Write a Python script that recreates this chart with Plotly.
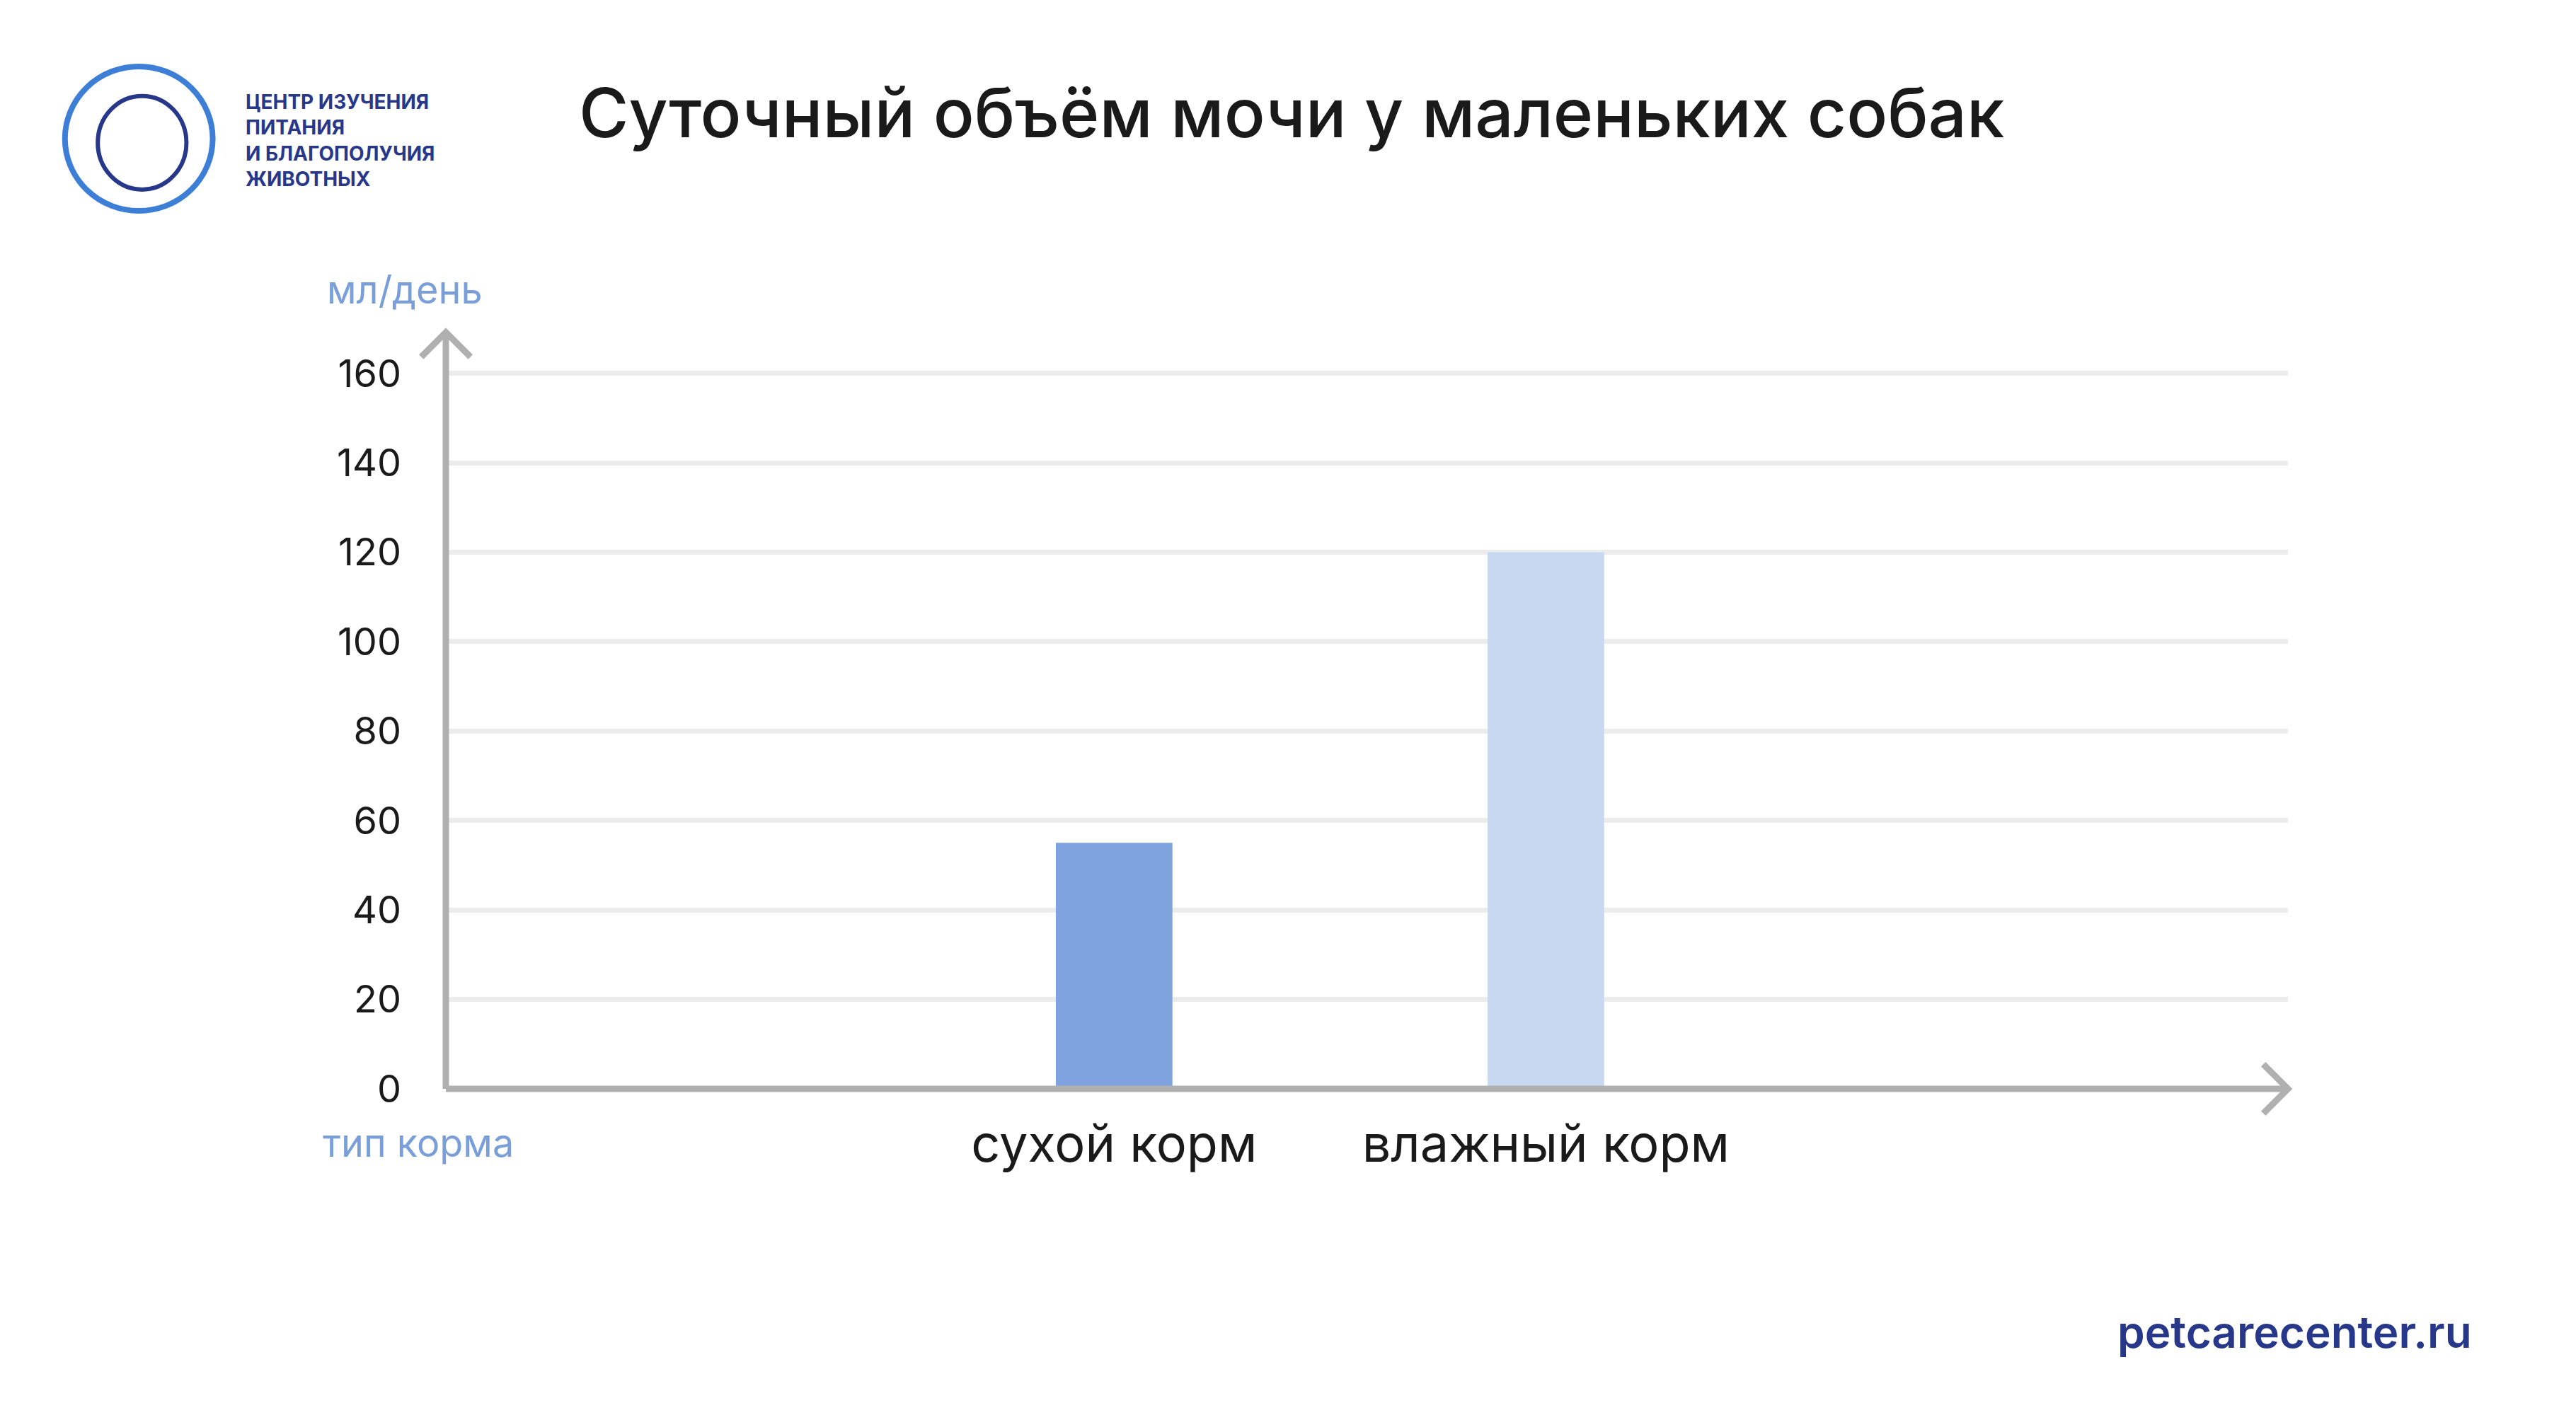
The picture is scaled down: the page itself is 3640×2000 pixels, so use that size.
import plotly.graph_objects as go

categories = ["сухой корм", "влажный корм"]
values = [55, 120]
colors = ["#7ea3de", "#c8d8f1"]
tick_vals = [0, 20, 40, 60, 80, 100, 120, 140, 160]

S = 2.32
L, R, T, B = 268*S, 3640-1390*S, 200*S, 2000-660*S
FONT = "Inter"
fig = go.Figure(go.Bar(x=[0, 1], y=values, marker_color=colors, width=0.27,
                       marker_line_width=0, hoverinfo="skip"))

fig.update_layout(
    width=3640, height=2000, paper_bgcolor="white", plot_bgcolor="white",
    margin=dict(l=L, r=R, t=T, b=B), showlegend=False,
    font=dict(family=FONT, color="#1a1a1a"),
    xaxis=dict(range=[-1.548, 2.719], tickvals=[0, 1], ticktext=categories,
               showgrid=False, zeroline=False, showline=False,
               tickfont=dict(size=72, family=FONT, color="#1a1a1a"), ticks="",
               ticklabelstandoff=30),
    yaxis=dict(range=[0, 168.8], tickvals=tick_vals, showgrid=True,
               gridcolor="#ececec", gridwidth=7, zeroline=False, showline=False,
               tickfont=dict(size=54, family=FONT, color="#1a1a1a"), ticks="",
               ticklabelstandoff=62),
)
ax = "#b0b0b0"

def px(x, y):
    return (x*S-L)/(3640-L-R), (2000-B-y*S)/(2000-T-B)

fig.add_shape(type="line", xref="x domain", yref="y domain", x0=0, x1=0, y0=0, y1=1,
              line=dict(color=ax, width=9))
fig.add_shape(type="line", xref="x domain", yref="y domain", x0=0, x1=1, y0=0, y1=0,
              line=dict(color=ax, width=9))
def arrow(points):
    p = " L ".join(f"{px(x,y)[0]:.5f} {px(x,y)[1]:.5f}" for x, y in points)
    fig.add_shape(type="path", xref="paper", yref="paper", path="M " + p,
                  line=dict(color=ax, width=9))
arrow([(253, 214), (268, 199), (283, 214)])
arrow([(1375, 645), (1390, 660), (1375, 675)])

def text(t, x, y, size, color, anchor="left", weight=None, align="left"):
    f = dict(size=size, family=FONT, color=color)
    if weight:
        f["weight"] = weight
    fig.add_annotation(text=t, xref="paper", yref="paper", x=px(x, 0)[0], y=px(0, y)[1],
                       showarrow=False, xanchor=anchor, yanchor="middle", align=align, font=f)

text("Суточный объём мочи у маленьких собак", 348, 65, 96, "#1a1a1a", weight=500)
text("мл/день", 243, 173, 54, "#7a9fd8", anchor="center")
text("тип корма", 192, 693, 54, "#7a9fd8")
text("petcarecenter.ru", 1503, 808, 62, "#27388a", anchor="right", weight=600)
text("ЦЕНТР ИЗУЧЕНИЯ<br>ПИТАНИЯ<br>И БЛАГОПОЛУЧИЯ<br>ЖИВОТНЫХ", 145, 82, 28, "#27388a", weight=700)

x0, y0 = px(36, 125)
x1, y1 = px(126, 37)
fig.add_shape(type="circle", xref="paper", yref="paper", x0=x0, x1=x1, y0=y0, y1=y1,
              line=dict(color="#3d7fd6", width=8))
x0, y0 = px(56, 112)
x1, y1 = px(110, 55)
fig.add_shape(type="circle", xref="paper", yref="paper", x0=x0, x1=x1, y0=y0, y1=y1,
              line=dict(color="#27388a", width=6))
fig.write_html("out.html")
